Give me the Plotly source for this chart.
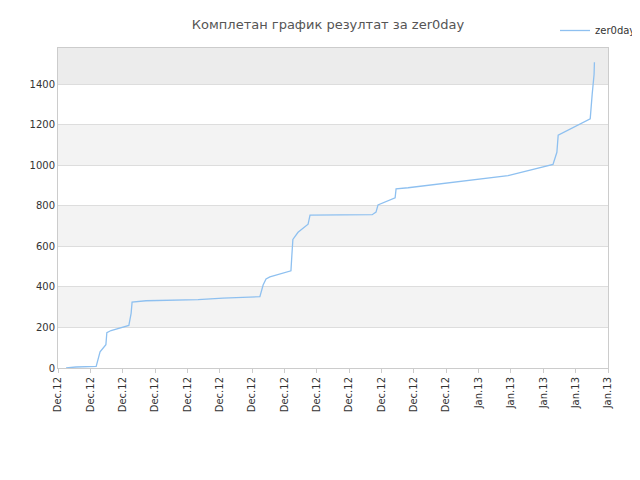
import plotly.graph_objects as go

# x in tick units (0 = first Dec.12 tick, 17 = last Jan.13 tick)
x_vals = [0.25, 0.56, 1.18, 1.21, 1.30, 1.48, 1.51, 1.64, 2.19, 2.26, 2.29, 2.72,
          3.55, 4.33, 5.10, 5.87, 6.24, 6.34, 6.43, 6.55, 7.20, 7.23, 7.26, 7.42,
          7.73, 7.79, 8.66, 9.71, 9.83, 9.89, 10.42, 10.45, 10.82, 13.91, 15.30,
          15.42, 15.46, 16.45, 16.51, 16.57, 16.58]
y_vals = [0, 5, 8, 30, 80, 115, 175, 185, 210, 270, 325, 332,
          335, 338, 345, 350, 352, 410, 440, 450, 480, 560, 635, 670,
          710, 755, 757, 757, 770, 805, 840, 885, 890, 950, 1005,
          1065, 1150, 1230, 1350, 1450, 1510]
tick_labels = ["Dec.12"] * 13 + ["Jan.13"] * 5

fig = go.Figure()
fig.add_trace(go.Scatter(x=x_vals, y=y_vals, mode="lines", name="zer0day",
                         line=dict(color="#8ec0f0", width=1.3)))

shapes = []
bands = [(200, 400, "#f3f3f3"), (600, 800, "#f3f3f3"), (1000, 1200, "#f3f3f3"),
         (1400, 1580, "#ececec")]
for y0, y1, c in bands:
    shapes.append(dict(type="rect", xref="paper", yref="y", x0=0, x1=1, y0=y0, y1=y1,
                       fillcolor=c, line_width=0, layer="below"))

fig.update_layout(
    width=640, height=480,
    title=dict(text="Комплетан график резултат за zer0day", x=0.5, y=0.975,
               font=dict(size=13, color="#555")),
    font=dict(family="DejaVu Sans", size=10, color="#333"),
    paper_bgcolor="white", plot_bgcolor="white",
    margin=dict(l=50, r=40, t=40, b=120, autoexpand=False),
    shapes=shapes,
    showlegend=True,
    legend=dict(x=1.06, y=1.1, xanchor="right", yanchor="top", font=dict(size=10),
                itemwidth=30),
    xaxis=dict(range=[0, 17], tickmode="array", tickvals=list(range(18)),
               ticktext=tick_labels, tickangle=-90, showgrid=False,
               showline=True, linecolor="#ccc", ticks="outside", ticklen=4,
               tickcolor="#ccc", zeroline=False, mirror=True, automargin=False),
    yaxis=dict(range=[0, 1580], tickvals=[0, 200, 400, 600, 800, 1000, 1200, 1400],
               gridcolor="#dddddd", showline=True, linecolor="#ccc", zeroline=False,
               mirror=True, automargin=False),
)

fig.write_html("out.html")
